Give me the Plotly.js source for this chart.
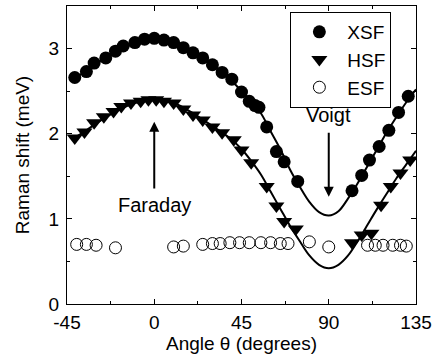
<!DOCTYPE html>
<html><head><meta charset="utf-8">
<script src="https://cdn.plot.ly/plotly-3.0.1.min.js"></script>
<style>html,body{margin:0;padding:0;background:#fff}#chart{width:438px;height:362px}</style>
</head><body><div id="chart"></div>
<script>
// XSF data (filled circles)
var xsfAngle = [-41,-35,-31,-25,-20,-16,-10,-5,0,5,10,15,20,25,30,35,40,45,49,52,54,58,63,67,74,102,107,111,116,121,126,131];
var xsfShift = [2.66,2.73,2.83,2.89,2.97,3.03,3.07,3.11,3.12,3.10,3.07,3.01,2.95,2.89,2.81,2.72,2.64,2.49,2.38,2.33,2.31,2.08,1.79,1.67,1.44,1.33,1.51,1.69,1.85,2.04,2.25,2.44];
// HSF data (down triangles)
var hsfAngle = [-41,-36,-31,-26,-21,-17,-12,-7,-3,1,5,10,15,20,25,30,35,41,45,50,58,63,67,73,102,107,112,117,122,127,132];
var hsfShift = [1.95,2.02,2.13,2.20,2.26,2.32,2.36,2.38,2.40,2.40,2.38,2.36,2.29,2.22,2.16,2.08,2.01,1.93,1.81,1.66,1.38,1.15,0.97,0.88,0.72,0.81,0.83,1.16,1.38,1.54,1.69];
// ESF data (open circles)
var esfAngle = [-40,-35,-30,-20,10,15,25,30,34,39,44,49,55,60,65,69,80,90,110,114,118,123,127,130];
var esfShift = [0.70,0.70,0.69,0.66,0.67,0.68,0.70,0.71,0.71,0.72,0.72,0.72,0.72,0.72,0.71,0.71,0.73,0.67,0.69,0.69,0.69,0.69,0.69,0.68];
// fitted curves
var fitAngle = [-42,-35,-30,-20,-10,0,10,20,30,40,45,50,55,60,65,70,75,80,85,90,95,100,105,110,115,120,125,130,135];
var xsfFit = [2.64,2.74,2.82,2.96,3.06,3.10,3.07,2.96,2.81,2.62,2.50,2.38,2.24,2.03,1.82,1.58,1.38,1.20,1.08,1.04,1.09,1.24,1.42,1.62,1.82,2.02,2.20,2.37,2.52];
var hsfFit = [1.94,2.04,2.12,2.26,2.36,2.40,2.36,2.24,2.09,1.93,1.82,1.68,1.52,1.32,1.12,0.92,0.74,0.57,0.46,0.42,0.46,0.57,0.74,0.93,1.12,1.30,1.48,1.64,1.80];

var F = '"Liberation Sans", Arial, Helvetica, sans-serif';
var traces = [
  {x: fitAngle, y: xsfFit, mode:'lines', line:{color:'#000', width:2, shape:'spline'}, showlegend:false, hoverinfo:'skip'},
  {x: fitAngle, y: hsfFit, mode:'lines', line:{color:'#000', width:2, shape:'spline'}, showlegend:false, hoverinfo:'skip'},
  {x: xsfAngle, y: xsfShift, mode:'markers', name:'XSF', marker:{symbol:'circle', size:13, color:'#000'}},
  {x: hsfAngle, y: hsfShift, mode:'markers', name:'HSF', marker:{symbol:'triangle-down', size:14, color:'#000'}},
  {x: esfAngle, y: esfShift, mode:'markers', name:'ESF', marker:{symbol:'circle-open', size:12, color:'#000', line:{width:1, color:'#000'}}}
];
var layout = {
  width:438, height:362,
  margin:{l:67, r:22, t:6, b:58},
  paper_bgcolor:'#fff', plot_bgcolor:'#fff',
  font:{family:F, size:19, color:'#000'},
  showlegend:true,
  legend:{x:0.64, y:0.98, xanchor:'left', yanchor:'top', bgcolor:'#fff', bordercolor:'#000', borderwidth:1, font:{family:F, size:19, color:'#000'}, itemwidth:46, tracegroupgap:0},
  xaxis:{range:[-45,135], tickvals:[-45,0,45,90,135], ticktext:['-45','0','45','90','135'], ticks:'inside', ticklen:5, tickcolor:'#000', showline:true, linecolor:'#000', linewidth:1, mirror:'ticks', showgrid:false, zeroline:false, tickfont:{size:19}, ticklabelstandoff:1,
    minor:{tickvals:[-22.5,22.5,67.5,112.5], ticks:'inside', ticklen:3, tickcolor:'#000', showgrid:false},
    title:{text:'Angle θ (degrees)', font:{size:19}, standoff:3}},
  yaxis:{range:[0,3.5], tickvals:[0,1,2,3], ticks:'inside', ticklen:5, tickcolor:'#000', showline:true, linecolor:'#000', linewidth:1, mirror:'ticks', showgrid:false, zeroline:false, tickfont:{size:19}, ticklabelstandoff:3,
    minor:{tickvals:[0.5,1.5,2.5], ticks:'inside', ticklen:3, tickcolor:'#000', showgrid:false},
    title:{text:'Raman shift (meV)', font:{size:19}, standoff:13}},
  annotations:[
    {x:0, y:2.14, ax:0, ay:1.34, xref:'x', yref:'y', axref:'x', ayref:'y', showarrow:true, arrowhead:2, arrowsize:1, arrowwidth:2, arrowcolor:'#000', text:''},
    {x:0, y:1.16, xref:'x', yref:'y', showarrow:false, text:'Faraday', font:{family:F, size:20, color:'#000'}},
    {x:90, y:1.26, ax:90, ay:2.03, xref:'x', yref:'y', axref:'x', ayref:'y', showarrow:true, arrowhead:2, arrowsize:1, arrowwidth:2, arrowcolor:'#000', text:''},
    {x:90, y:2.22, xref:'x', yref:'y', showarrow:false, text:'Voigt', font:{family:F, size:20, color:'#000'}}
  ]
};
Plotly.newPlot('chart', traces, layout, {displayModeBar:false, staticPlot:true});
</script></body></html>
